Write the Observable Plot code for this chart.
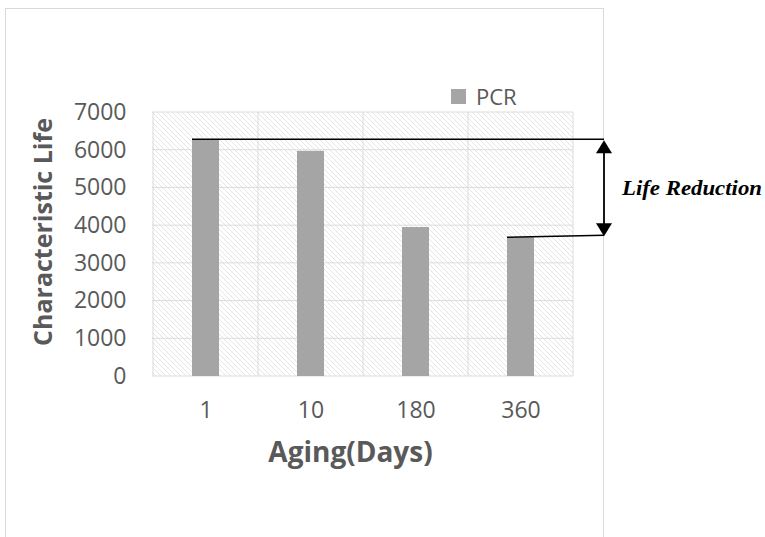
<!DOCTYPE html>
<html><head><meta charset="utf-8">
<script src="https://cdn.jsdelivr.net/npm/d3@7"></script>
<script src="https://cdn.jsdelivr.net/npm/@observablehq/plot@0.6"></script>
<style>body{margin:0;background:#fff}</style>
</head><body><div id="chart"></div>
<script>
const days = ["1", "10", "180", "360"];
const life = [6280, 5970, 3950, 3680];
const yTicks = [0, 1000, 2000, 3000, 4000, 5000, 6000, 7000];
const seriesName = "PCR";
const xTitle = "Aging(Days)";
const yTitle = "Characteristic Life";
const annotationText = "Life Reduction";

const data = days.map((d, i) => ({day: d, life: life[i]}));
const NS = "http://www.w3.org/2000/svg";
function el(tag, attrs, parent) {
  const e = document.createElementNS(NS, tag);
  for (const k in attrs) e.setAttribute(k, attrs[k]);
  if (parent) parent.appendChild(e);
  return e;
}
const INSET = 39;
const textColor = "#595959";

function background(index, scales, values, dim) {
  const g = el("g", {});
  const x = scales.x, y = scales.y;
  const left = dim.marginLeft, right = dim.width - dim.marginRight;
  const top = y(yTicks[yTicks.length - 1]), bottom = y(0);
  const defs = el("defs", {}, g);
  const pat = el("pattern", {id: "hatch", patternUnits: "userSpaceOnUse", width: 5, height: 5}, defs);
  el("rect", {width: 5, height: 5, fill: "#ffffff"}, pat);
  el("path", {d: "M0,0L5,5M-1,4L1,6M4,-1L6,1", stroke: "#dedede", "stroke-width": 0.8}, pat);
  // chart container border
  el("rect", {x: 5.5, y: 8.5, width: 598, height: 600, fill: "none", stroke: "#d9d9d9"}, g);
  // plot area
  el("rect", {x: left, y: top, width: right - left, height: bottom - top, fill: "url(#hatch)"}, g);
  for (const t of yTicks) {
    el("line", {x1: left, x2: right, y1: y(t), y2: y(t), stroke: "#dcdcdc", "stroke-width": 1}, g);
  }
  const xs = days.map(d => x(d)).concat([right]);
  for (const xv of xs) {
    el("line", {x1: xv, x2: xv, y1: top, y2: bottom, stroke: "#dcdcdc", "stroke-width": 1}, g);
  }
  // axis titles
  const tx = el("text", {x: (left + right) / 2 - 12, y: 462, "text-anchor": "middle", fill: textColor,
    "font-family": "Open Sans", "font-weight": "bold", "font-size": 28}, g);
  tx.textContent = xTitle;
  const ty = el("text", {transform: `translate(52,${(top + bottom) / 2 - 12}) rotate(-90)`, "text-anchor": "middle",
    fill: textColor, "font-family": "Open Sans", "font-weight": "bold", "font-size": 25}, g);
  ty.textContent = yTitle;
  // legend
  el("rect", {x: 451, y: 89, width: 15, height: 15, fill: "#a5a5a5"}, g);
  const lt = el("text", {x: 476, y: 97, dy: "0.35em", "text-anchor": "start", fill: textColor,
    "font-family": "Open Sans", "font-size": 22}, g);
  lt.textContent = seriesName;
  return g;
}

function annotation(index, scales, values, dim) {
  const g = el("g", {});
  const x = scales.x, y = scales.y;
  const right = dim.width - dim.marginRight;
  const xa = right + 31;
  const yTop = y(life[0]), yBot = y(life[3]);
  const first = x(days[0]) + INSET, last = x(days[3]) + INSET;
  el("line", {x1: first, x2: xa, y1: yTop, y2: yTop, stroke: "#000", "stroke-width": 1.5}, g);
  el("line", {x1: last, x2: xa, y1: yBot, y2: yBot - 2, stroke: "#000", "stroke-width": 1.5}, g);
  el("line", {x1: xa, x2: xa, y1: yTop + 10, y2: yBot - 12, stroke: "#000", "stroke-width": 1.8}, g);
  el("path", {d: `M${xa},${yTop + 1}L${xa - 8},${yTop + 14}L${xa + 8},${yTop + 14}Z`, fill: "#000"}, g);
  el("path", {d: `M${xa},${yBot - 1}L${xa - 8},${yBot - 14}L${xa + 8},${yBot - 14}Z`, fill: "#000"}, g);
  const t = el("text", {x: 622, y: (yTop + yBot) / 2, dy: "0.33em", "text-anchor": "start", fill: "#000",
    "font-family": "Liberation Serif", "font-style": "italic", "font-weight": "bold", "font-size": 20,
    textLength: 140, lengthAdjust: "spacingAndGlyphs"}, g);
  t.textContent = annotationText;
  return g;
}

const chart = Plot.plot({
  width: 765,
  height: 537,
  marginLeft: 152,
  marginRight: 192,
  marginTop: 112,
  marginBottom: 161,
  style: {fontFamily: "Open Sans", fontSize: "23px", color: textColor, background: "#fff"},
  x: {domain: days, padding: 0, tickSize: 0, tickPadding: 25, label: null},
  y: {domain: [0, 7000], ticks: yTicks, tickSize: 0, tickPadding: 26, label: null, tickFormat: d => String(d)},
  marks: [
    background,
    Plot.barY(data, {x: "day", y: "life", fill: "#a5a5a5", insetLeft: INSET, insetRight: INSET}),
    annotation
  ]
});
document.getElementById("chart").appendChild(chart);
</script>
</body></html>
